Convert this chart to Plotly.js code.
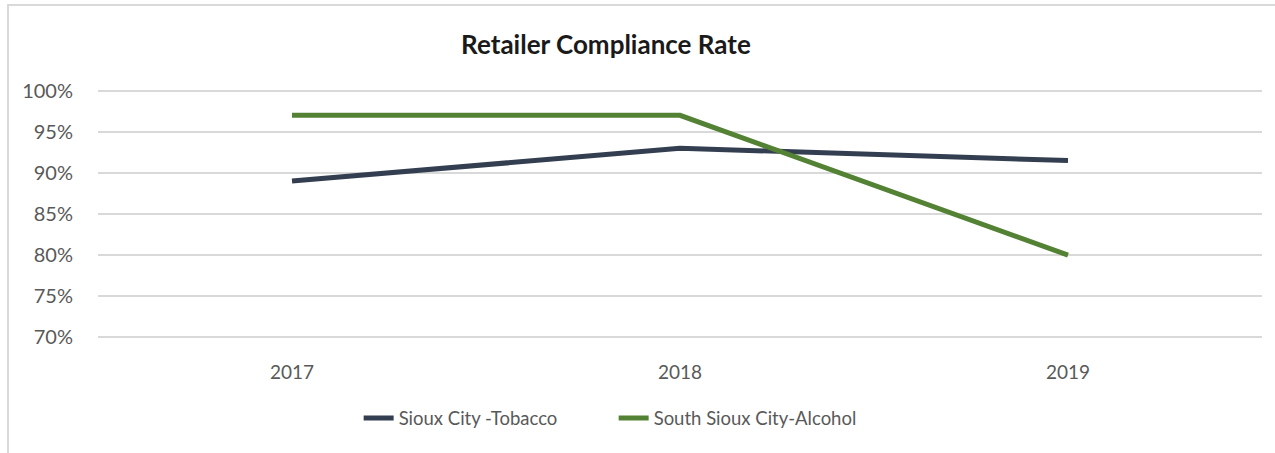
<!DOCTYPE html>
<html>
<head>
<meta charset="utf-8">
<script src="https://cdn.plot.ly/plotly-3.0.1.min.js"></script>
<style>
  html, body { margin: 0; padding: 0; background: #fff; }
  #wrap { position: relative; width: 1275px; height: 453px; overflow: hidden; }
  #chart { position: absolute; left: 0; top: 0; width: 1275px; height: 453px; }
  #frame { position: absolute; left: 7px; top: 4px; width: 1280px; height: 460px;
           border-left: 2px solid #D9D9D9; border-top: 2px solid #D9D9D9; pointer-events: none; }
</style>
</head>
<body>
<div id="wrap">
  <div id="chart"></div>
  <div id="frame"></div>
</div>
<script>
const years = ['2017', '2018', '2019'];
const tobacco = [0.89, 0.93, 0.915];
const alcohol = [0.97, 0.97, 0.80];
const seriesNames = ['Sioux City -Tobacco', 'South Sioux City-Alcohol'];
const titleText = 'Retailer Compliance Rate';

const font = 'Lato, "Open Sans", "Liberation Sans", sans-serif';

const traces = [
  { x: years, y: tobacco, name: seriesNames[0], type: 'scatter', mode: 'lines',
    line: { color: '#333F50', width: 5 } },
  { x: years, y: alcohol, name: seriesNames[1], type: 'scatter', mode: 'lines',
    line: { color: '#548235', width: 5 } }
];

const layout = {
  width: 1275, height: 453,
  margin: { l: 98, r: 13, t: 88.85, b: 113.65 },
  paper_bgcolor: 'rgba(0,0,0,0)',
  plot_bgcolor: 'rgba(0,0,0,0)',
  font: { family: font, size: 20, color: '#595959' },
  title: { text: '<b>' + titleText + '</b>', font: { family: font, size: 26, color: '#1a1a1a' },
           x: 0.4364, xref: 'paper', xanchor: 'center', y: 47, yref: 'container', yanchor: 'middle' },
  xaxis: { type: 'category', range: [-0.5, 2.5], showgrid: false, zeroline: false, showline: false,
           ticks: 'outside', ticklen: 16, tickcolor: 'rgba(0,0,0,0)',
           tickfont: { family: font, size: 19, color: '#595959' } },
  yaxis: { range: [0.698, 1.002], dtick: 0.05, tick0: 0.70, tickformat: '.0%',
           showgrid: true, gridcolor: '#D9D9D9', gridwidth: 2, zeroline: false, showline: false,
           ticks: 'outside', ticklen: 20, tickcolor: 'rgba(0,0,0,0)',
           tickfont: { family: font, size: 20, color: '#595959' } },
  showlegend: true,
  legend: { orientation: 'h', x: 0.443, xanchor: 'center', y: -0.318, yanchor: 'middle',
            font: { family: font, size: 18.5, color: '#595959' }, entrywidth: 210, entrywidthmode: 'pixels',
            tracegroupgap: 0 }
};

Plotly.newPlot('chart', traces, layout, { displayModeBar: false, staticPlot: true });
</script>
</body>
</html>
